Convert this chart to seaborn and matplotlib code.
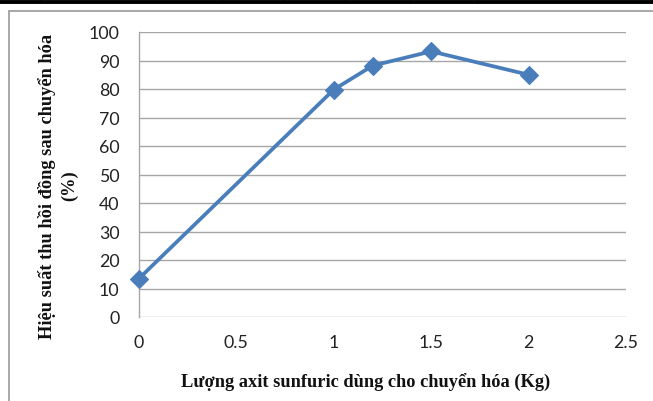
import matplotlib
matplotlib.use("Agg")
import matplotlib.pyplot as plt
from matplotlib.lines import Line2D
import seaborn as sns
import pandas as pd

# Sulfuric acid amount (kg) vs. copper recovery yield after conversion (%)
acid_kg = [0, 1, 1.2, 1.5, 2]
recovery_pct = [13.5, 79.8, 88.2, 93.2, 85.0]

x_ticks = [0, 0.5, 1, 1.5, 2, 2.5]
x_tick_labels = ["0", "0.5", "1", "1.5", "2", "2.5"]
y_ticks = list(range(0, 101, 10))

x_label = "Lượng axit sunfuric dùng cho chuyển hóa (Kg)"
y_label = "Hiệu suất thu hồi đồng sau chuyển hóa\n(%)"

df = pd.DataFrame({"acid": acid_kg, "recovery": recovery_pct})

sns.set_theme(style="white")
plt.rcParams["font.family"] = ["Lato", "DejaVu Sans"]

W, H = 653, 402
fig = plt.figure(figsize=(W / 100, H / 100), dpi=100)
ax = fig.add_axes([139 / W, 1 - 318 / H, (626 - 139) / W, (318 - 33) / H])

line_color = "#4a7ebb"
sns.lineplot(data=df, x="acid", y="recovery", ax=ax, color=line_color,
             linewidth=2.7, marker="D", markersize=9.5, markeredgewidth=0.8,
             markeredgecolor=line_color, markerfacecolor=line_color,
             zorder=5, clip_on=False)

ax.set_xlim(0, 2.5)
ax.set_ylim(0, 100)
ax.set_xticks(x_ticks)
ax.set_xticklabels(x_tick_labels)
ax.set_yticks(y_ticks)

grid_color = "#a6a6a6"
ax.grid(axis="y", color=grid_color, linewidth=1.0)
ax.grid(axis="x", visible=False)
for side in ("top", "right", "bottom"):
    ax.spines[side].set_visible(False)
ax.spines["left"].set_color(grid_color)
ax.spines["left"].set_linewidth(1.0)
ax.tick_params(axis="both", length=0, labelsize=12.8, colors="#222222")
ax.tick_params(axis="y", pad=14)
ax.tick_params(axis="x", pad=12)

serif = ["Liberation Serif", "DejaVu Serif"]
ax.set_xlabel(x_label, fontsize=13.2, fontweight="bold", family=serif,
              color="#111111", va="center")
ax.xaxis.set_label_coords((366 - 139) / 487, (318 - 383) / 285)
ax.set_ylabel(y_label, fontsize=13.2, fontweight="bold", family=serif,
              color="#111111", va="center", linespacing=1.4)
ax.yaxis.set_label_coords((58 - 139) / 487, (318 - 186) / 285)

# Outer chart frame and the table rule above it
def px_line(xs, ys, **kw):
    fig.add_artist(Line2D([x / W for x in xs], [1 - y / H for y in ys],
                          transform=fig.transFigure, **kw))

px_line([8.5, W], [11.5, 11.5], color="#9a9a9a", linewidth=1.2)
px_line([8.5, 8.5], [11.5, H], color="#9a9a9a", linewidth=1.2)
px_line([0, W], [2.5, 2.5], color="black", linewidth=2.8)
for tx in [40, 222, 283, 345, 410, 477]:
    px_line([tx, tx], [0, 2.5], color="black", linewidth=1.0)

fig.savefig("out.png", dpi=100)
